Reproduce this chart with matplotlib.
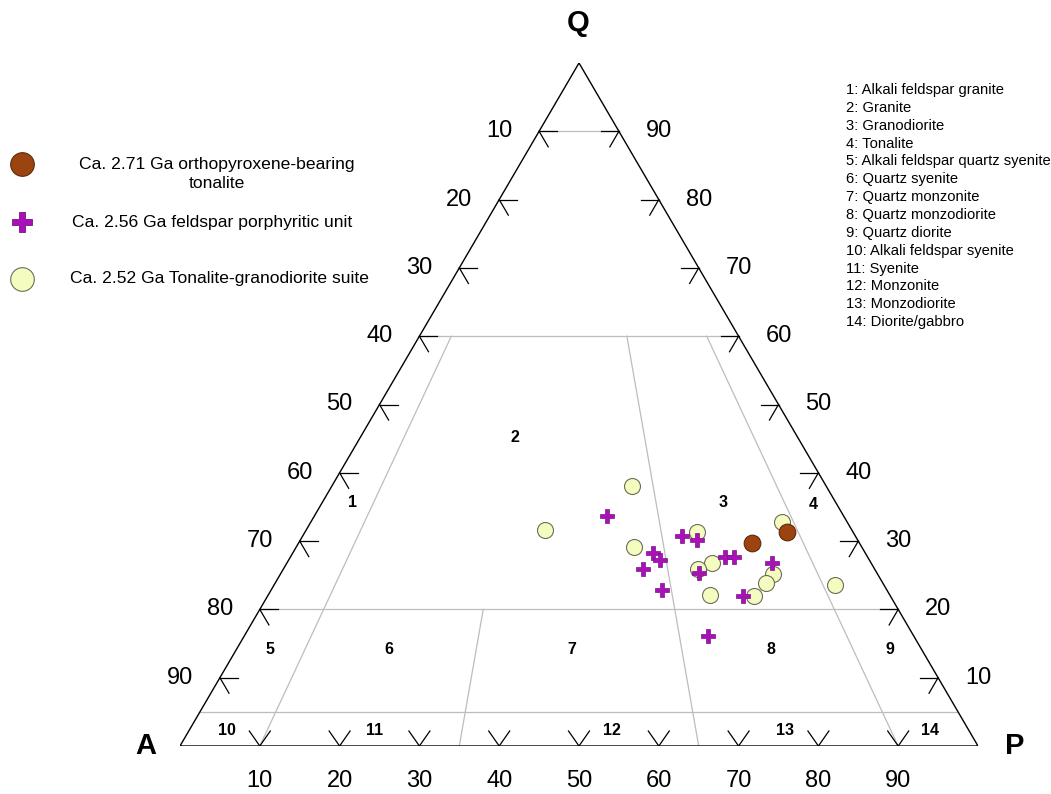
import numpy as np
import matplotlib.pyplot as plt

plt.rcParams['font.family'] = ['Liberation Sans', 'DejaVu Sans']

# modal compositions (Q, A, P in %)
opx_q = [29.7, 31.3]
opx_a = [13.5, 8.3]
opx_p = [56.8, 60.4]

fp_q = [33.7, 30.7, 30.2, 28.3, 27.3, 25.9, 25.3, 27.6, 27.7, 26.8, 22.8, 22.0, 16.1]
fp_a = [29.6, 21.8, 20.1, 26.6, 26.2, 29.0, 22.3, 17.9, 16.7, 12.4, 28.2, 18.5, 25.8]
fp_p = [36.7, 47.5, 49.7, 45.1, 46.5, 45.1, 52.4, 54.5, 55.6, 60.9, 49.0, 59.5, 58.1]

tg_q = [38.0, 31.6, 29.1, 31.4, 26.8, 25.9, 32.8, 25.2, 23.8, 22.0, 22.1, 23.6]
tg_a = [24.3, 38.5, 28.5, 19.5, 19.9, 22.2, 8.1, 13.1, 14.7, 17.1, 22.5, 6.1]
tg_p = [37.7, 29.9, 42.4, 49.1, 53.3, 51.9, 59.1, 61.7, 61.5, 60.9, 55.4, 70.3]

legend_labels = ["Ca. 2.71 Ga orthopyroxene-bearing\ntonalite",
                 "Ca. 2.56 Ga feldspar porphyritic unit",
                 "Ca. 2.52 Ga Tonalite-granodiorite suite"]

field_names = ["Alkali feldspar granite", "Granite", "Granodiorite", "Tonalite",
               "Alkali feldspar quartz syenite", "Quartz syenite", "Quartz monzonite",
               "Quartz monzodiorite", "Quartz diorite", "Alkali feldspar syenite",
               "Syenite", "Monzonite", "Monzodiorite", "Diorite/gabbro"]

# field number label positions: Q % and P/(A+P) %
field_q = [35.6, 45.1, 35.7, 35.3, 14.1, 14.1, 14.1, 14.1, 14.1, 2.3, 2.3, 2.3, 2.3, 2.3]
field_r = [5.9, 35.3, 78, 95.4, 4.9, 22.2, 49, 78, 95.4, 4.8, 23.8, 54.2, 76.4, 95]

tick_vals = [10, 20, 30, 40, 50, 60, 70, 80, 90]

H = np.sqrt(3) / 2


def tern(q, a, p):
    q = np.asarray(q, float)
    a = np.asarray(a, float)
    p = np.asarray(p, float)
    s = q + a + p
    q, p = q / s, p / s
    return p + 0.5 * q, q * H


def qr(q, r):
    # Q % and P/(A+P) %
    q = np.asarray(q, float) / 100
    r = np.asarray(r, float) / 100
    p = (1 - q) * r
    return p + 0.5 * q, q * H


fig = plt.figure(figsize=(10.51, 7.94), dpi=100)
ax = fig.add_axes([180 / 1051, 48 / 794, 798 / 1051, 683 / 794])
ax.set_xlim(0, 1)
ax.set_ylim(0, H)
ax.axis('off')

# px -> data scale
sx = 1 / 798
sy = H / 683

# field boundaries
grey = dict(color='#bdbdbd', lw=0.9, zorder=1)
for q in [90, 60, 20, 5]:
    x, y = qr([q, q], [0, 100])
    ax.plot(x, y, **grey)
for r, q0 in [(10, 60), (65, 60), (90, 60), (35, 20)]:
    x, y = qr([q0, 0], [r, r])
    ax.plot(x, y, **grey)

# triangle
ax.plot([0, 1, 0.5, 0], [0, 0, H, 0], color='black', lw=1.0, zorder=3)

# tick marks, parallel to the other two sides
L = 18
u_qp = np.array([400 * sx, -683 * sy]) / np.hypot(400, 683)   # down-right
u_aq = np.array([-398 * sx, -683 * sy]) / np.hypot(398, 683)  # down-left
tk = dict(color='black', lw=0.9, zorder=3)
for v in tick_vals:
    f = v / 100
    # left edge (A-Q)
    x0, y0 = 0.5 * f, f * H
    ax.plot([x0, x0 + L * sx], [y0, y0], **tk)
    ax.plot([x0, x0 + L * u_qp[0]], [y0, y0 + L * u_qp[1]], **tk)
    ax.text(x0 - 40 * sx, y0, str(100 - v), fontsize=17, ha='center', va='center')
    # right edge (Q-P)
    x1, y1 = 1 - 0.5 * f, f * H
    ax.plot([x1, x1 - L * sx], [y1, y1], **tk)
    ax.plot([x1, x1 + L * u_aq[0]], [y1, y1 + L * u_aq[1]], **tk)
    ax.text(x1 + 40 * sx, y1, str(v), fontsize=17, ha='center', va='center')
    # base (A-P)
    ax.plot([f - 10.5 * sx, f, f + 10.5 * sx], [15 * sy, 0, 15 * sy], **tk)
    ax.text(f, -35 * sy, str(v), fontsize=17, ha='center', va='center')

# apex labels
ax.text(0.5 - 1 * sx, H + 40 * sy, 'Q', fontsize=21, fontweight='bold', ha='center', va='center')
ax.text(-34 * sx, 0, 'A', fontsize=21, fontweight='bold', ha='center', va='center')
ax.text(1 + 37 * sx, 0, 'P', fontsize=21, fontweight='bold', ha='center', va='center')

# field numbers
fx, fy = qr(field_q, field_r)
for i in range(len(field_q)):
    ax.text(fx[i], fy[i], str(i + 1), fontsize=11.5, fontweight='bold', ha='center', va='center')

# data
x, y = tern(tg_q, tg_a, tg_p)
ax.plot(x, y, 'o', ms=11.5, mfc='#f5fcc0', mec='#6d6d55', mew=0.8, ls='none', zorder=5)
x, y = tern(fp_q, fp_a, fp_p)
ax.plot(x, y, 'P', ms=10, mfc='#a810b8', mec='#7a1085', mew=0.5, ls='none', zorder=6)
x, y = tern(opx_q, opx_a, opx_p)
ax.plot(x, y, 'o', ms=12, mfc='#9c4410', mec='#5a2a08', mew=0.8, ls='none', zorder=7)

# legend (pixel coordinates)
lg = fig.add_axes([0, 0, 1, 1])
lg.set_xlim(0, 1051)
lg.set_ylim(794, 0)
lg.axis('off')
lg.plot(22, 164, 'o', ms=17, mfc='#9c4410', mec='#5a2a08', mew=0.8)
lg.plot(22, 222, 'P', ms=15, mfc='#a810b8', mec='#7a1085', mew=0.6)
lg.plot(22, 279, 'o', ms=17, mfc='#f5fcc0', mec='#6d6d55', mew=0.8)
lg.text(217, 174, legend_labels[0], fontsize=12.6, ha='center', va='center',
        multialignment='center', linespacing=1.4)
lg.text(72, 222, legend_labels[1], fontsize=12.6, ha='left', va='center')
lg.text(70, 279, legend_labels[2], fontsize=12.6, ha='left', va='center')

for i, name in enumerate(field_names):
    lg.text(846, 90 + i * 17.85, f"{i + 1}: {name}", fontsize=10.6, ha='left', va='center')

fig.savefig('out.png', dpi=100)
